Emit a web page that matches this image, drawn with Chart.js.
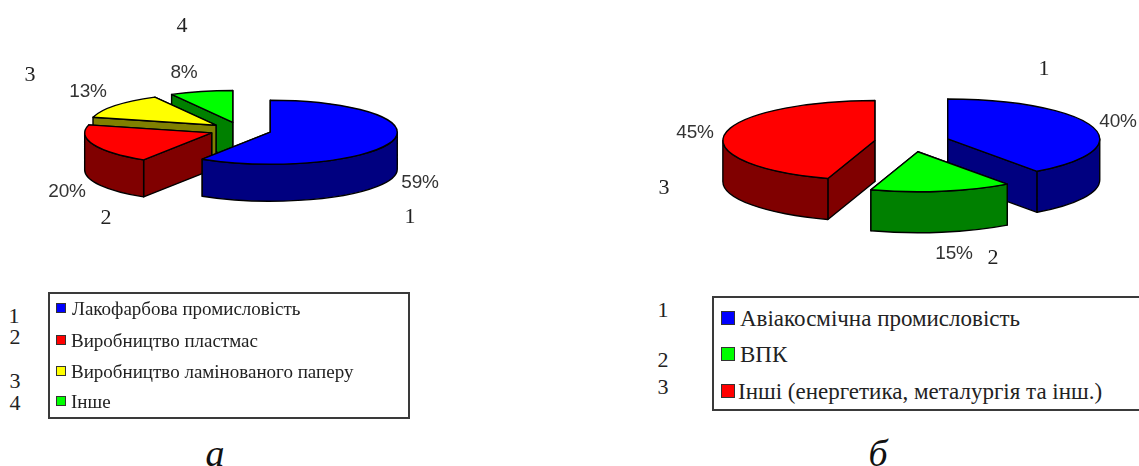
<!DOCTYPE html>
<html lang="uk">
<head>
<meta charset="utf-8">
<title>Структура споживання</title>
<script src="https://cdn.jsdelivr.net/npm/chart.js@4"></script>
<style>
  html, body { margin: 0; padding: 0; background: #fff; width: 1139px; height: 466px; overflow: hidden; }
  canvas { position: absolute; }
  .t { position: absolute; transform: translate(-50%, -50%); white-space: nowrap; line-height: 1; }
  .pct { font-family: "Liberation Sans", Arial, sans-serif; font-size: 19px; color: #333; letter-spacing: -0.2px; }
  .num { font-family: "Liberation Serif", "Times New Roman", serif; font-size: 22px; color: #222; }
  .cap { font-family: "Liberation Serif", "Times New Roman", serif; font-style: italic; font-size: 38px; color: #111; }
  .box { position: absolute; box-sizing: border-box; border: 2px solid #3a3a3a; background: #fff; }
  .swatch { position: absolute; box-sizing: border-box; border: 1px solid #333; }
  .item { position: absolute; font-family: "Liberation Serif", "Times New Roman", serif; color: #222; white-space: nowrap; line-height: 1; transform: translateY(-50%); }
</style>
</head>
<body>
<canvas id="pieA" width="481" height="260" style="left:0;top:0"></canvas>
<canvas id="pieB" width="454" height="284" style="left:685px;top:0"></canvas>
<div id="notes"></div>
<script>
// Industry shares, per cent
const categoriesA = ['Лакофарбова промисловість', 'Виробництво пластмас', 'Виробництво ламінованого паперу', 'Інше'];
const valuesA = [59, 20, 13, 8];
const numbersA = ['1', '2', '3', '4'];

const categoriesB = ['Авіакосмічна промисловість', 'ВПК', 'Інші (енергетика, металургія та інш.)'];
const valuesB = [40, 15, 45];
const numbersB = ['1', '2', '3'];

const topColorsA = ['#0000ff', '#ff0000', '#ffff00', '#00ff00'];
const sideColorsA = ['#000080', '#800000', '#808000', '#008000'];
const topColorsB = ['#0000ff', '#00ff00', '#ff0000'];
const sideColorsB = ['#000080', '#008000', '#800000'];

// Draws the pie's arc elements as tilted, exploded solids
const tiltedPie = {
  id: 'tiltedPie',
  beforeDatasetsDraw(chart, args, opts) {
    const ctx = chart.ctx;
    const meta = chart.getDatasetMeta(0);
    const sides = chart.data.datasets[0].sideColors;
    const { squash, depth, explode, order } = opts;
    ctx.save();
    ctx.lineJoin = 'round';
    ctx.lineWidth = 1.4;
    ctx.strokeStyle = '#000';
    for (const i of order) {
      const arc = meta.data[i];
      const a0 = arc.startAngle, a1 = arc.endAngle;
      const mid = (a0 + a1) / 2;
      const rx = arc.outerRadius, ry = rx * squash;
      const cx = arc.x + Math.cos(mid) * explode;
      const cy = arc.y + Math.sin(mid) * explode * squash;
      const paint = (fill) => { ctx.fillStyle = fill; ctx.fill(); ctx.stroke(); };

      // radial cut faces, the one further back goes first
      const cuts = [a0, a1].sort((p, q) => Math.sin(p) - Math.sin(q));
      for (const a of cuts) {
        const px = cx + Math.cos(a) * rx, py = cy + Math.sin(a) * ry;
        ctx.beginPath();
        ctx.moveTo(cx, cy);
        ctx.lineTo(px, py);
        ctx.lineTo(px, py + depth);
        ctx.lineTo(cx, cy + depth);
        ctx.closePath();
        paint(sides[i]);
      }
      // rounded outer wall, only its front half can be seen
      for (const k of [-1, 0, 1]) {
        const s = Math.max(a0, k * 2 * Math.PI);
        const e = Math.min(a1, k * 2 * Math.PI + Math.PI);
        if (e <= s) continue;
        ctx.beginPath();
        ctx.ellipse(cx, cy, rx, ry, 0, s, e);
        ctx.ellipse(cx, cy + depth, rx, ry, 0, e, s, true);
        ctx.closePath();
        paint(sides[i]);
      }
      // top face
      ctx.beginPath();
      ctx.moveTo(cx, cy);
      ctx.ellipse(cx, cy, rx, ry, 0, a0, a1);
      ctx.closePath();
      paint(arc.options.backgroundColor);
    }
    ctx.restore();
    return false;
  }
};

function makePie(id, labels, values, colors, sideColors, radius, look) {
  return new Chart(document.getElementById(id), {
    type: 'pie',
    plugins: [tiltedPie],
    data: { labels, datasets: [{ data: values, backgroundColor: colors, sideColors, radius, borderWidth: 0 }] },
    options: {
      responsive: false,
      animation: false,
      events: [],
      layout: { padding: 0 },
      plugins: { legend: { display: false }, tooltip: { enabled: false }, tiltedPie: look }
    }
  });
}

makePie('pieA', categoriesA, valuesA, topColorsA, sideColorsA, 127,
  { squash: 0.252, depth: 37, explode: 31, order: [3, 2, 1, 0] });
makePie('pieB', categoriesB, valuesB, topColorsB, sideColorsB, 152,
  { squash: 0.263, depth: 41, explode: 37.6, order: [0, 2, 1] });

// Text and legends around the pies
const notes = document.getElementById('notes');
function text(cls, str, x, y) {
  const el = document.createElement('div');
  el.className = 't ' + cls;
  el.textContent = str;
  el.style.left = x + 'px';
  el.style.top = y + 'px';
  notes.appendChild(el);
}
function legend(box, names, colors, rowY, swatchX, swatchSize, textX, fontSize) {
  const b = document.createElement('div');
  b.className = 'box';
  Object.assign(b.style, { left: box[0] + 'px', top: box[1] + 'px', width: box[2] + 'px', height: box[3] + 'px' });
  notes.appendChild(b);
  names.forEach((name, i) => {
    const s = document.createElement('div');
    s.className = 'swatch';
    Object.assign(s.style, {
      left: swatchX + 'px', top: (rowY[i] - swatchSize / 2) + 'px',
      width: swatchSize + 'px', height: swatchSize + 'px', background: colors[i]
    });
    notes.appendChild(s);
    const t = document.createElement('div');
    t.className = 'item';
    t.textContent = name;
    Object.assign(t.style, { left: textX[i] + 'px', top: rowY[i] + 'px', fontSize: fontSize + 'px' });
    notes.appendChild(t);
  });
}

const pctSpotsA = [[420, 181], [67, 190], [88, 90], [184, 71]];
const numSpotsA = [[410, 216], [106, 217], [30, 74], [182, 25]];
const keySpotsA = [[14, 316], [15, 337], [15, 381], [15, 403]];
const pctSpotsB = [[1118, 120], [954, 252], [695, 131]];
const numSpotsB = [[1044, 68], [993, 257], [664, 187]];
const keySpotsB = [[663, 310], [663, 360], [663, 387]];

valuesA.forEach((v, i) => text('pct', v + '%', pctSpotsA[i][0], pctSpotsA[i][1]));
numbersA.forEach((n, i) => {
  text('num', n, numSpotsA[i][0], numSpotsA[i][1]);
  text('num', n, keySpotsA[i][0], keySpotsA[i][1]);
});
valuesB.forEach((v, i) => text('pct', v + '%', pctSpotsB[i][0], pctSpotsB[i][1]));
numbersB.forEach((n, i) => {
  text('num', n, numSpotsB[i][0], numSpotsB[i][1]);
  text('num', n, keySpotsB[i][0], keySpotsB[i][1]);
});

legend([48, 292, 362, 127], categoriesA, topColorsA, [308, 340, 371, 401], 56, 10, [72, 71, 71, 71], 19);
legend([712, 296, 440, 115], categoriesB, topColorsB, [318, 354, 391], 721, 14, [740, 740, 738], 23);

text('cap', 'а', 215, 453);
text('cap', 'б', 878, 453);
</script>
</body>
</html>
